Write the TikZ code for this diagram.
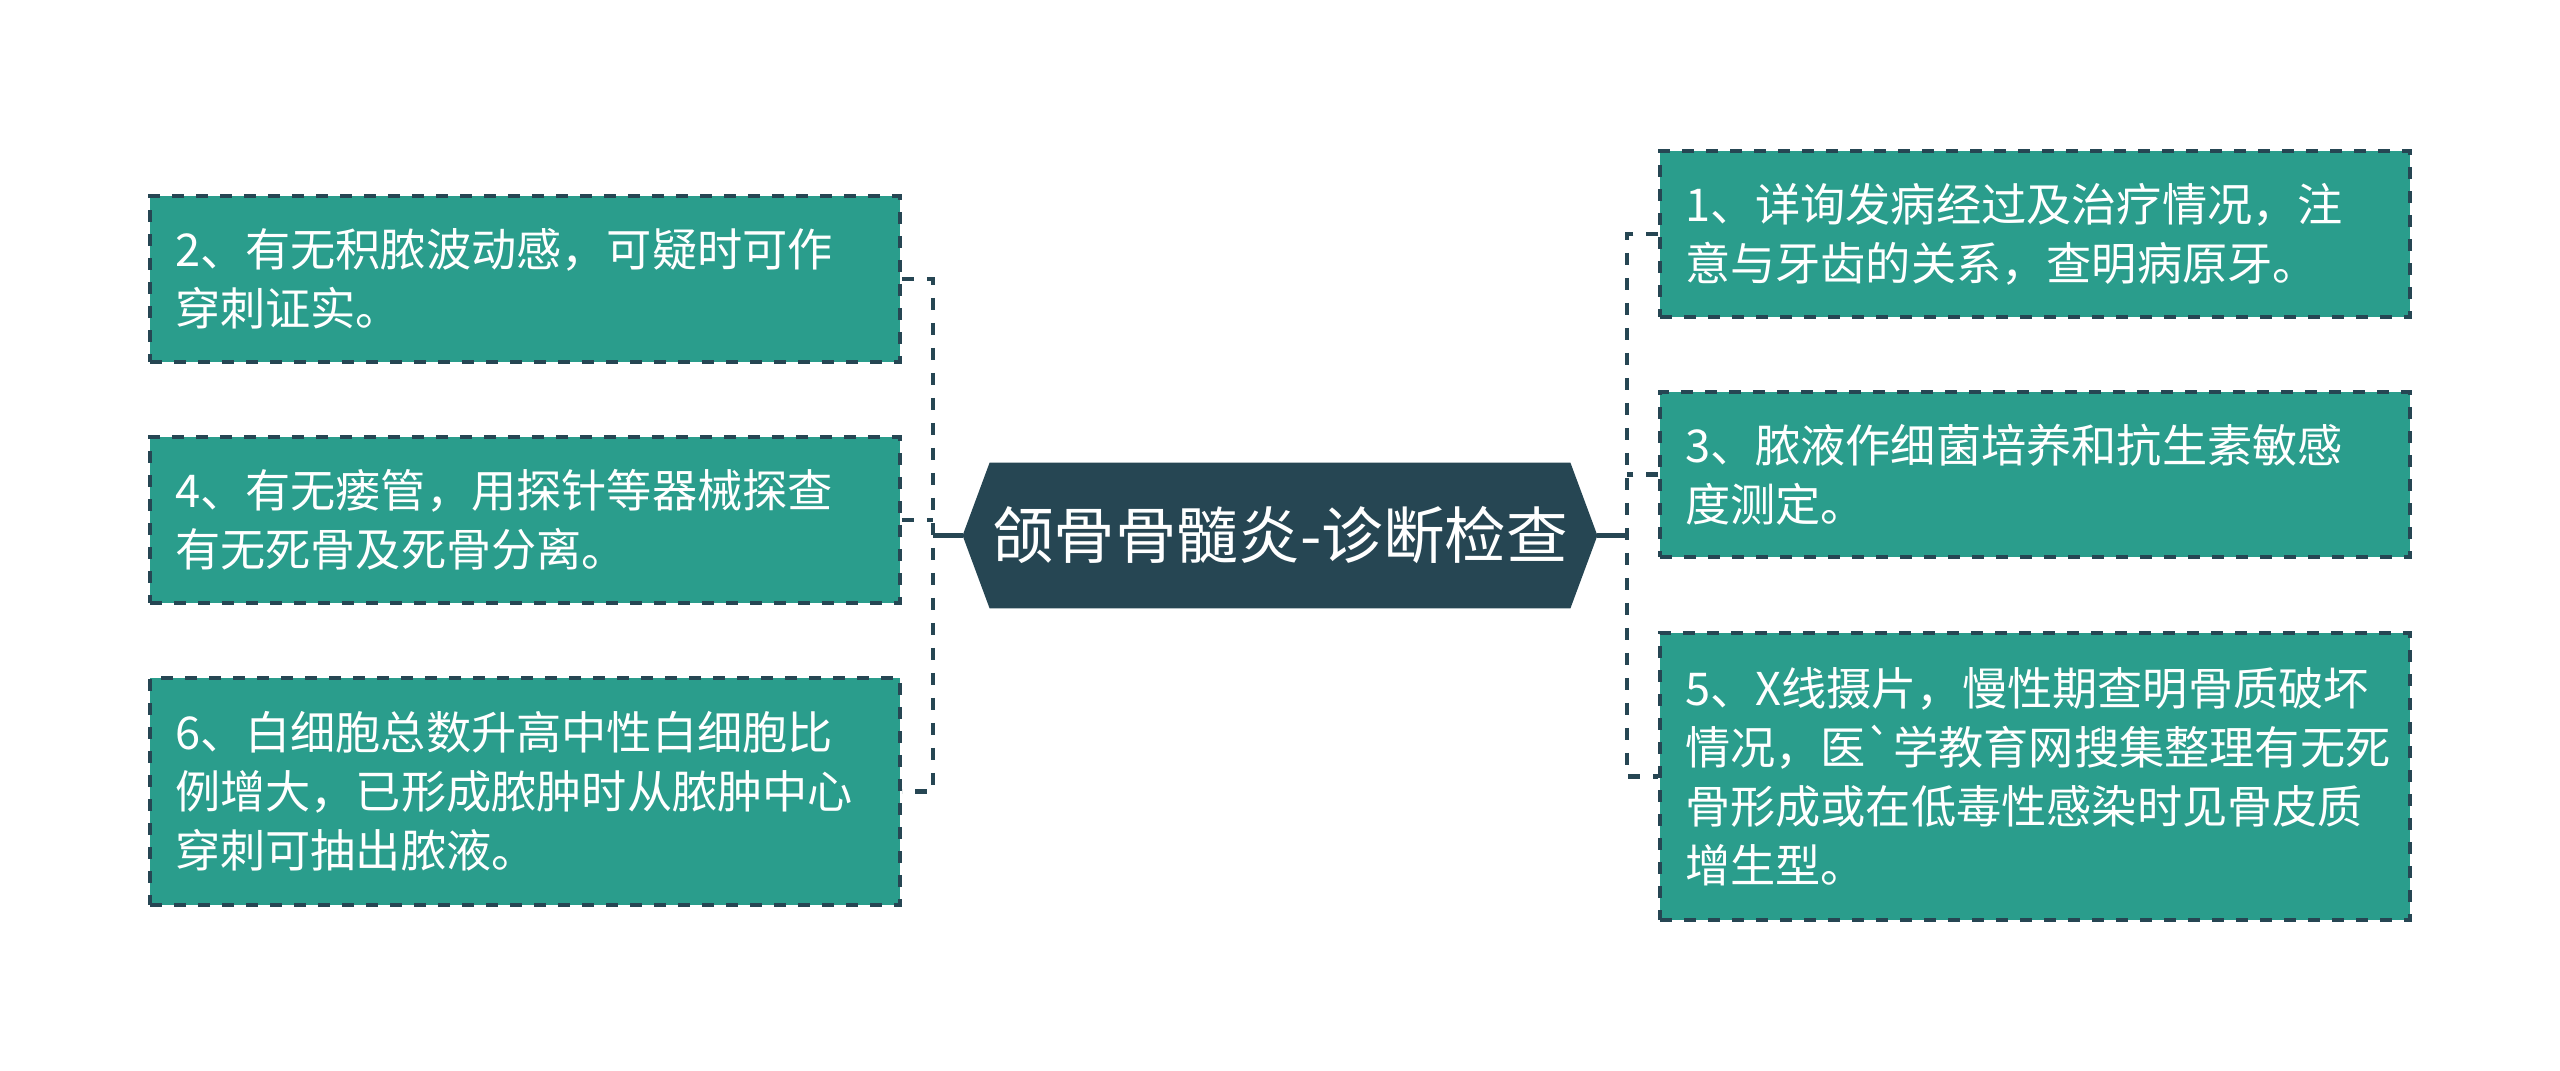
\documentclass[tikz,border=0pt]{standalone}
\usepackage{fontspec}
\setmainfont{Noto Sans CJK SC}
\usetikzlibrary{calc,backgrounds}
\definecolor{boxfill}{HTML}{2A9D8C}
\definecolor{darkc}{HTML}{264653}
\begin{document}
\begin{tikzpicture}[x=0.5pt,y=-0.5pt,
  leaf/.style={rectangle, fill=boxfill, draw=darkc, line width=1.75pt,
    dash pattern=on 6pt off 6pt, minimum width=375pt, text width=350pt,
    inner xsep=12.5pt, inner ysep=0pt, align=left, text=white,
    font=\fontsize{22.6}{29.5}\selectfont},
  conn/.style={draw=darkc, line width=2.1pt, dash pattern=on 6pt off 6.5pt},
  trunk/.style={draw=darkc, line width=2.1pt}]
\useasboundingbox (0,0) rectangle (2560,1071);
\node[leaf, minimum height=83pt] (b2) at (525,279) {2、有无积脓波动感，可疑时可作\\穿刺证实。};
\node[leaf, minimum height=83pt] (b4) at (525,520) {4、有无瘘管，用探针等器械探查\\有无死骨及死骨分离。};
\node[leaf, minimum height=113.5pt] (b6) at (525,791.5) {6、白细胞总数升高中性白细胞比\\例增大，已形成脓肿时从脓肿中心\\穿刺可抽出脓液。};
\node[leaf, minimum height=83pt] (b1) at (2035,234) {1、详询发病经过及治疗情况，注\\意与牙齿的关系，查明病原牙。};
\node[leaf, minimum height=82.5pt] (b3) at (2035,474.5) {3、脓液作细菌培养和抗生素敏感\\度测定。};
\node[leaf, minimum height=143.5pt] (b5) at (2035,776.5) {5、X线摄片，慢性期查明骨质破坏\\情况，医\textasciigrave 学教育网搜集整理有无死\\骨形成或在低毒性感染时见骨皮质\\增生型。};
\node[minimum width=317pt, minimum height=72.5pt, inner sep=0pt, text=white,
  font=\fontsize{30.8}{36}\selectfont] (root) at (1280,535.5) {颌骨骨髓炎-诊断检查};
\begin{scope}[on background layer]
\fill[darkc] (root.west) -- ($(root.north west)+(27,0)$) -- ($(root.north east)+(-27,0)$)
  -- (root.east) -- ($(root.south east)+(-27,0)$) -- ($(root.south west)+(27,0)$) -- cycle;
\end{scope}
\coordinate (lx) at (933,535.5);
\coordinate (rx) at (1627,535.5);
\draw[trunk] (root.west) -- (lx);
\draw[trunk] (root.east) -- (rx);
\draw[conn] (b2.east) -- (b2.east -| lx) -- (b6.east -| lx) -- (b6.east);
\draw[conn] (b4.east) -- (b4.east -| lx);
\draw[conn] (b1.west) -- (b1.west -| rx) -- (b5.west -| rx) -- (b5.west);
\draw[conn] (b3.west) -- (b3.west -| rx);
\end{tikzpicture}
\end{document}
